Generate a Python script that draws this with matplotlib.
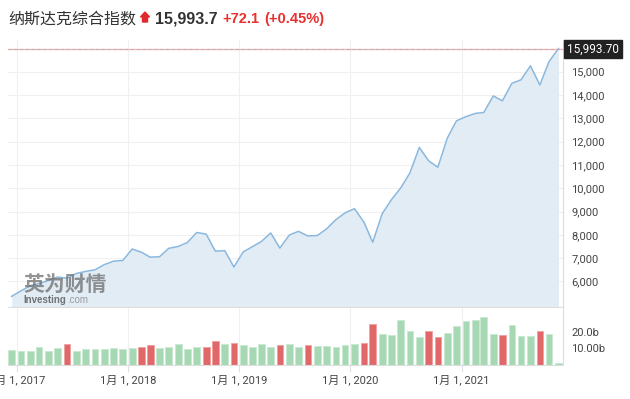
import numpy as np
import pandas as pd
import matplotlib
matplotlib.use("Agg")
import matplotlib.pyplot as plt
from matplotlib.patches import Polygon, Rectangle

# monthly data, Dec 2016 .. Nov 2021
months = pd.date_range("2016-12-01", periods=60, freq="MS") + pd.Timedelta(days=14)
closes = [5360, 5600, 5820, 5910, 6040, 6190, 6140, 6340, 6430, 6500,
          6720, 6870, 6900, 7390, 7250, 7040, 7060, 7420, 7500, 7670,
          8100, 8030, 7300, 7320, 6620, 7270, 7500, 7710, 8080, 7430,
          7990, 8150, 7950, 7970, 8250, 8650, 8940, 9120, 8550, 7680,
          8900, 9500, 10010, 10650, 11750, 11170, 10900, 12150, 12890, 13070,
          13210, 13250, 13960, 13750, 14500, 14650, 15250, 14430, 15430, 15993.7]
volumes = [8.8, 8.2, 8.2, 10.6, 8.2, 10.0, 12.4, 8.2, 9.4, 9.4,
           9.4, 10.0, 9.4, 10.0, 10.6, 11.8, 10.0, 10.6, 12.4, 9.4,
           10.6, 10.6, 14.2, 12.4, 13.0, 11.8, 10.6, 12.4, 10.6, 11.8,
           12.4, 10.6, 11.8, 11.2, 11.2, 10.6, 11.8, 12.4, 13.0, 24.5,
           18.5, 17.9, 26.9, 20.3, 16.7, 20.3, 16.7, 19.1, 23.3, 26.3,
           26.9, 28.7, 18.5, 17.9, 23.9, 17.3, 17.3, 20.3, 18.5, 1.2]
last_price = 15993.7
price_ticks = [6000, 7000, 8000, 9000, 10000, 11000, 12000, 13000, 14000, 15000]
vol_ticks = [10, 20]
vol_labels = ["10.00b", "20.0b"]
year_ticks = pd.to_datetime(["2017-01-01", "2018-01-01", "2019-01-01", "2020-01-01", "2021-01-01"])
year_labels = ["1月 1, 2017", "1月 1, 2018", "1月 1, 2019", "1月 1, 2020", "1月 1, 2021"]

plt.rcParams["font.family"] = ["Roboto", "Noto Sans CJK SC", "DejaVu Sans"]

W, H = 630, 399
fig = plt.figure(figsize=(6.3, 3.99), dpi=100)


def box(l, t, r, b):
    return [l / W, 1 - b / H, (r - l) / W, (b - t) / H]


def fx(px):
    return px / W


def fy(py):
    return 1 - py / H


ax = fig.add_axes(box(8, 40, 563, 307))
axv = fig.add_axes(box(8, 308, 563, 365), sharex=ax)

# price panel
ymin, ymax = 4903, 16359
ax.fill_between(months, closes, ymin, color="#e2ecf5", lw=0)
ax.plot(months, closes, color="#8ab8de", lw=1.1)
ax.axhline(last_price, color="#f5b3b3", lw=1)
ax.axhline(last_price, color="#b0b0b0", lw=0.7, ls=(0, (3, 3)))
ax.set_ylim(ymin, ymax)
ax.set_xlim(pd.Timestamp("2016-12-03"), pd.Timestamp("2021-11-30"))
ax.yaxis.tick_right()
ax.set_yticks(price_ticks)
ax.set_yticklabels([f"{v:,}" for v in price_ticks])
ax.tick_params(axis="y", length=0, pad=6, labelsize=8, labelcolor="#444")
ax.tick_params(axis="x", length=0, labelbottom=False)
ax.grid(color="#f0f0f0", lw=0.8)
ax.set_axisbelow(True)
for s in ["top", "left"]:
    ax.spines[s].set_visible(False)
for s in ["bottom", "right"]:
    ax.spines[s].set_color("#dddddd")

# volume panel
colors = ["#a6d8b3"] + ["#e06868" if closes[i] < closes[i - 1] else "#a6d8b3"
                        for i in range(1, len(closes))]
edges = ["#c9e9d1" if c == "#a6d8b3" else "#f0a0a0" for c in colors]
axv.bar(months, volumes, width=22, color=colors, edgecolor=edges, lw=0.6)
axv.set_ylim(0, 34.3)
axv.yaxis.tick_right()
axv.set_yticks(vol_ticks)
axv.set_yticklabels(vol_labels)
axv.tick_params(axis="y", length=0, pad=6, labelsize=8, labelcolor="#444")
axv.set_xticks(year_ticks)
axv.set_xticklabels(year_labels)
axv.tick_params(axis="x", length=5, color="#e0e0e0", pad=2, labelsize=8, labelcolor="#444")
axv.grid(axis="x", color="#f0f0f0", lw=0.8)
axv.set_axisbelow(True)
for s in ["top", "left"]:
    axv.spines[s].set_visible(False)
for s in ["bottom", "right"]:
    axv.spines[s].set_color("#dddddd")

# price tag on the right
fig.patches.append(Rectangle((fx(564), fy(58)), fx(58), 18 / H, transform=fig.transFigure,
                             color="#222222", zorder=5))
fig.text(fx(593), fy(49), "15,993.70", color="white", fontsize=8.5, ha="center", va="center", zorder=6)

# header
fig.text(fx(8), fy(19), "纳斯达克综合指数", fontsize=11.5, color="#333333", va="center",
         family=["Noto Sans CJK SC", "DejaVu Sans"])
arrow = [(145, 12), (149.5, 17), (147.5, 17), (147.5, 22), (142.5, 22), (142.5, 17), (140.5, 17)]
fig.patches.append(Polygon([(fx(a), fy(b)) for a, b in arrow], closed=True,
                           transform=fig.transFigure, color="#e0292b"))
fig.text(fx(155), fy(19), "15,993.7", fontsize=11.5, fontweight="bold", color="#333333",
         va="center", family="Liberation Sans")
fig.text(fx(222), fy(19), "+72.1", fontsize=10.5, fontweight="bold", color="#e8302f",
         va="center", family="Liberation Sans")
fig.text(fx(264), fy(19), "(+0.45%)", fontsize=10.5, fontweight="bold", color="#e8302f",
         va="center", family="Liberation Sans")

# watermark
fig.text(fx(23), fy(284), "英为财情", fontsize=15, fontweight="bold", color="#666666", alpha=0.7,
         va="center", family=["Noto Sans CJK SC", "DejaVu Sans"])
fig.text(fx(23), fy(300), "Investing", fontsize=7, fontweight="bold", color="#555555", alpha=0.8,
         va="center", family="Liberation Sans")
fig.text(fx(67), fy(300), ".com", fontsize=7, color="#888888", alpha=0.8,
         va="center", family="Liberation Sans")

fig.savefig("out.png", dpi=100)
